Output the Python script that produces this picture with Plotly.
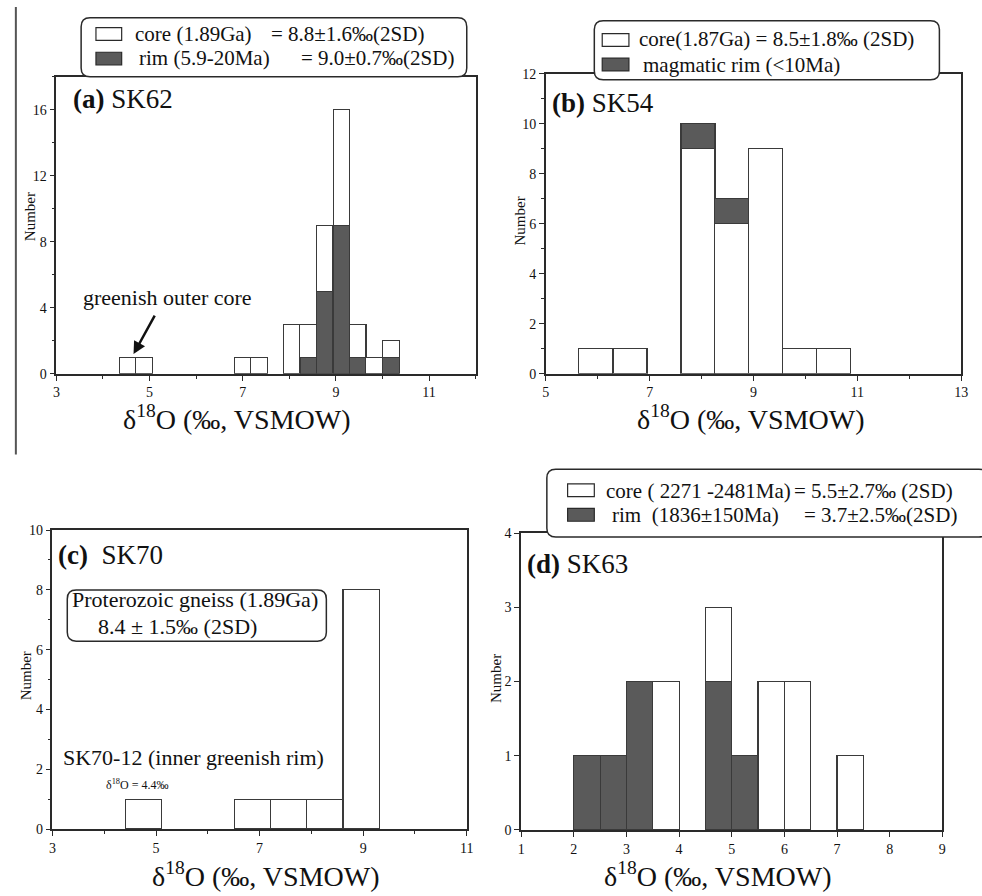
import plotly.graph_objects as go

W, H = 982, 896
FONT = "'Liberation Serif', 'Times New Roman', Times, serif"
INK = "#111111"
DARK = "#5a5a5a"
EDGE = "#3a3a3a"

# ---------------- data ----------------
# (a) SK62  (rim stacked at bottom, core above)
a_centers = [4.53, 4.88, 7.00, 7.35, 8.05, 8.40, 8.76, 9.12, 9.47, 9.82, 10.18]
a_rim = [0, 0, 0, 0, 0, 1, 5, 9, 1, 0, 1]
a_core = [1, 1, 1, 1, 3, 2, 4, 7, 2, 1, 1]
a_bin = 0.355

# (b) SK54  (core at bottom, magmatic rim above)
b_centers = [5.96, 6.62, 7.93, 8.58, 9.23, 9.89, 10.54]
b_core = [1, 1, 9, 6, 9, 1, 1]
b_rim = [0, 0, 1, 1, 0, 0, 0]
b_bin = 0.655

# (c) SK70  (core only)
c_centers = [4.76, 6.86, 7.56, 8.26, 8.96]
c_core = [1, 1, 1, 1, 8]
c_bin = 0.70

# (d) SK63  (rim at bottom, core above)
d_centers = [2.25, 2.75, 3.25, 3.75, 4.75, 5.25, 5.75, 6.25, 7.25]
d_rim = [1, 1, 2, 0, 2, 1, 0, 0, 0]
d_core = [0, 0, 0, 2, 1, 0, 2, 2, 1]
d_bin = 0.5

XTITLE = "δ<sup>18</sup>O (‰, VSMOW)"
YTITLE = "Number"


def fx(p):
    return p / W


def fy(p):
    return 1 - p / H


def bar(x, y, width, color, xa, ya):
    return go.Bar(x=x, y=y, width=width, marker=dict(color=color, line=dict(color=EDGE, width=1.2)),
                  xaxis=xa, yaxis=ya, showlegend=False)


fig = go.Figure()
fig.add_trace(bar(a_centers, a_rim, a_bin, DARK, "x", "y"))
fig.add_trace(bar(a_centers, a_core, a_bin, "white", "x", "y"))
fig.add_trace(bar(b_centers, b_core, b_bin, "white", "x2", "y2"))
fig.add_trace(bar(b_centers, b_rim, b_bin, DARK, "x2", "y2"))
fig.add_trace(bar(c_centers, c_core, c_bin, "white", "x3", "y3"))
fig.add_trace(bar(d_centers, d_rim, d_bin, DARK, "x4", "y4"))
fig.add_trace(bar(d_centers, d_core, d_bin, "white", "x4", "y4"))


def xax(dom, rng, dtick, minor, anchor):
    d = dict(domain=[fx(dom[0]), fx(dom[1])], range=rng, anchor=anchor, tick0=rng[0], dtick=dtick,
             showline=True, mirror=True, linecolor="#2a2a2a", linewidth=1.5,
             ticks="outside", ticklen=5, tickwidth=1, tickcolor="#2a2a2a",
             showgrid=False, zeroline=False,
             tickfont=dict(family=FONT, size=14, color=INK))
    if minor:
        d["minor"] = dict(dtick=minor, tick0=rng[0], ticks="outside", ticklen=3, tickcolor="#2a2a2a")
    return d


def yax(dom, rng, dtick, minor, anchor):
    d = dict(domain=[fy(dom[1]), fy(dom[0])], range=rng, anchor=anchor, dtick=dtick,
             showline=True, mirror=True, linecolor="#2a2a2a", linewidth=1.5,
             ticks="outside", ticklen=5, tickwidth=1, tickcolor="#2a2a2a",
             showgrid=False, zeroline=False,
             tickfont=dict(family=FONT, size=14, color=INK))
    if minor:
        d["minor"] = dict(dtick=minor, ticks="outside", ticklen=3, tickcolor="#2a2a2a")
    return d


def rrect(x0, y0, x1, y1, r=9):
    rx, ry = r / W, r / H
    X0, X1 = fx(x0), fx(x1)
    Y0, Y1 = fy(y0), fy(y1)
    p = (f"M{X0+rx},{Y0} L{X1-rx},{Y0} Q{X1},{Y0} {X1},{Y0-ry} "
         f"L{X1},{Y1+ry} Q{X1},{Y1} {X1-rx},{Y1} "
         f"L{X0+rx},{Y1} Q{X0},{Y1} {X0},{Y1+ry} "
         f"L{X0},{Y0-ry} Q{X0},{Y0} {X0+rx},{Y0} Z")
    return dict(type="path", path=p, xref="paper", yref="paper", layer="above",
                fillcolor="white", line=dict(color="#2a2a2a", width=1.5))


def swatch(x0, y0, x1, y1, color):
    return dict(type="rect", xref="paper", yref="paper", x0=fx(x0), x1=fx(x1), y0=fy(y1), y1=fy(y0),
                layer="above", fillcolor=color, line=dict(color="#2a2a2a", width=1.2))


def txt(x, y, s, size, xanchor="left", angle=0):
    return dict(x=fx(x), y=fy(y), xref="paper", yref="paper", text=s, showarrow=False,
                xanchor=xanchor, yanchor="middle", textangle=angle,
                font=dict(family=FONT, size=size, color=INK))


shapes = [
    # stray vertical rule at the far left
    dict(type="line", xref="paper", yref="paper", x0=fx(12), x1=fx(12), y0=fy(455), y1=fy(0),
         line=dict(color="#555", width=2)),
    rrect(78, 11, 468, 71),
    rrect(597, 14, 946, 74),
    rrect(549, 470, 995, 539),
    rrect(64, 593, 326, 645),
    swatch(93, 21, 119, 34, "white"),
    swatch(93, 46, 119, 59, DARK),
    swatch(605, 27, 632, 40, "white"),
    swatch(605, 52, 632, 65, DARK),
    swatch(570, 485, 597, 498, "white"),
    swatch(570, 510, 597, 523, DARK),
]

LG = 21
annotations = [
    txt(130, 27, "core (1.89Ga)", LG),
    txt(268, 27, "= 8.8±1.6‰(2SD)", LG),
    txt(135, 52, "rim (5.9-20Ma)", LG),
    txt(298, 52, "= 9.0±0.7‰(2SD)", LG),
    txt(640, 33, "core(1.87Ga) = 8.5±1.8‰ (2SD)", LG),
    txt(644, 59, "magmatic rim (&lt;10Ma)", LG),
    txt(607, 492, "core ( 2271 -2481Ma)", LG),
    txt(797, 492, "= 5.5±2.7‰ (2SD)", LG),
    txt(613, 517, "rim  (1836±150Ma)", LG),
    txt(807, 517, "= 3.7±2.5‰(2SD)", LG),
    txt(67, 603, "Proterozoic gneiss (1.89Ga)", 22),
    txt(93, 630, "8.4 ± 1.5‰ (2SD)", 22),
    txt(68, 94, "<b>(a)</b> SK62", 27),
    txt(552, 98, "<b>(b)</b> SK54", 27),
    txt(53, 557, "<b>(c)</b>  SK70", 27),
    txt(527, 566, "<b>(d)</b> SK63", 27),
    txt(78, 295, "greenish outer core", 22),
    txt(58, 763, "SK70-12 (inner greenish rim)", 22),
    txt(101, 791, "δ<sup>18</sup>O = 4.4‰", 12),
    # axis titles
    txt(236, 417, XTITLE, 28, "center"),
    txt(755, 417, XTITLE, 28, "center"),
    txt(265, 882, XTITLE, 28, "center"),
    txt(722, 882, XTITLE, 28, "center"),
    txt(27, 213, YTITLE, 15, "center", -90),
    txt(522, 218, YTITLE, 15, "center", -90),
    txt(22, 680, YTITLE, 15, "center", -90),
    txt(497, 683, YTITLE, 15, "center", -90),
    dict(x=fx(131), y=fy(353), xref="paper", yref="paper", text="", showarrow=True,
         ax=22, ay=-40, arrowhead=2, arrowsize=1, arrowwidth=2.5, arrowcolor="#111"),
]

fig.update_layout(
    width=W, height=H, margin=dict(l=0, r=0, t=0, b=0),
    paper_bgcolor="white", plot_bgcolor="white",
    barmode="stack", showlegend=False,
    font=dict(family=FONT, color=INK),
    xaxis=xax((53, 477), [3, 12], 2, 1, "y"),
    yaxis=yax((71, 373), [0, 18], 4, 2, "x"),
    xaxis2=xax((548, 968), [5, 13], 2, 1, "y2"),
    yaxis2=yax((68, 373), [0, 12], 2, 1, "x2"),
    xaxis3=xax((49, 468), [3, 11], 2, 1, "y3"),
    yaxis3=yax((532, 836), [0, 10], 2, 1, "x3"),
    xaxis4=xax((523, 949), [1, 9], 1, None, "y4"),
    yaxis4=yax((535, 837), [0, 4], 1, None, "x4"),
    shapes=shapes, annotations=annotations,
)

fig.write_html("out.html")
